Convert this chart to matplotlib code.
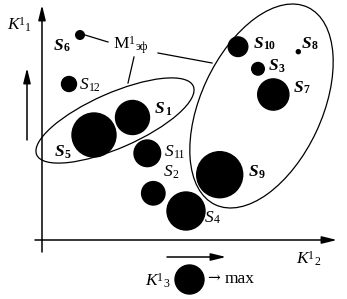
import matplotlib
matplotlib.use("Agg")
import matplotlib.pyplot as plt
from matplotlib.patches import Circle, Ellipse

plt.rcParams['font.family'] = ['Liberation Serif', 'DejaVu Serif']

# alternatives S1..S12: K2 (horizontal), K1 (vertical), K3 (circle size)
names = ['1', '2', '3', '4', '5', '6', '7', '8', '9', '10', '11', '12']
k2 = [132.5, 153.3, 258, 186, 94, 80, 273.3, 298.3, 219.7, 238, 147.3, 69]
k1 = [181.5, 105.7, 230.2, 88, 164, 264, 204.5, 247.3, 124.3, 252.3, 145.7, 215]
k3 = [17, 11.7, 6.3, 19, 22, 4.3, 15.6, 2, 23, 9.8, 13.3, 7.5]
efficient = [True, False, True, False, True, True, True, True, True, True, False, False]

# label anchors (left, baseline)
lab_x = [155, 163.3, 269, 205, 55, 53.3, 293.3, 301.7, 248.3, 253.3, 165, 80]
lab_y = [186, 122.5, 229, 77.5, 143, 249.5, 207.5, 251.5, 122.5, 251.5, 143, 210]

fig = plt.figure(figsize=(3.47, 2.99), dpi=100)
ax = fig.add_axes([0, 0, 1, 1])
ax.set_xlim(0, 347)
ax.set_ylim(0, 299)
ax.axis('off')


def label(x, y, base, sub=None, sup=None, bold=False, style='italic'):
    w = 'bold' if bold else 'normal'
    t = ax.text(x, y, base, fontsize=12.5, style=style, weight=w,
                ha='left', va='baseline')
    prev = t
    if sup:
        prev = ax.annotate(sup, xy=(1, 1), xycoords=t, xytext=(0.3, 1.0),
                           textcoords='offset points', fontsize=8.5,
                           ha='left', va='top')
    if sub:
        ax.annotate(sub, xy=(1, 0), xycoords=(prev, t), xytext=(0.2, -0.6),
                    textcoords='offset points', fontsize=8.5, weight=w,
                    ha='left', va='bottom')


arrow = dict(arrowstyle='-|>,head_length=0.9,head_width=0.22', color='black',
             lw=1.1, mutation_scale=10, shrinkA=0, shrinkB=0)

# axes
ax.annotate('', xy=(42, 294), xytext=(42, 47), arrowprops=arrow)
ax.annotate('', xy=(337, 59), xytext=(35, 59), arrowprops=arrow)
# direction arrows
ax.annotate('', xy=(27, 231), xytext=(27, 159), arrowprops=arrow)
ax.annotate('', xy=(226, 42), xytext=(167, 42), arrowprops=arrow)

for i in range(len(names)):
    ax.add_patch(Circle((k2[i], k1[i]), k3[i], color='black'))
    label(lab_x[i], lab_y[i], 'S', sub=names[i], bold=efficient[i])

# efficient sets
ax.add_patch(Ellipse((115, 178.5), 171, 55, angle=23.7, fill=False, lw=0.9, color='black'))
ax.add_patch(Ellipse((261.5, 193), 218, 121, angle=64.9, fill=False, lw=0.9, color='black'))

ax.plot([85, 108], [264, 257], color='black', lw=0.9)
ax.plot([158, 212], [246, 236], color='black', lw=0.9)
ax.plot([134, 128], [242, 216], color='black', lw=0.9)
label(113.3, 250.5, 'M', sub='эф', sup='1', style='normal')

label(7, 270, 'K', sub='1', sup='1')
label(296, 36, 'K', sub='2', sup='1')
label(145, 14, 'K', sub='3', sup='1')
ax.add_patch(Circle((189.5, 19.5), 14.5, color='black'))
ax.text(207, 16.5, '→', fontsize=11, family='DejaVu Serif', ha='left', va='baseline')
ax.text(225, 15.7, 'max', fontsize=12.5, ha='left', va='baseline')

fig.savefig('out.png', dpi=100)
